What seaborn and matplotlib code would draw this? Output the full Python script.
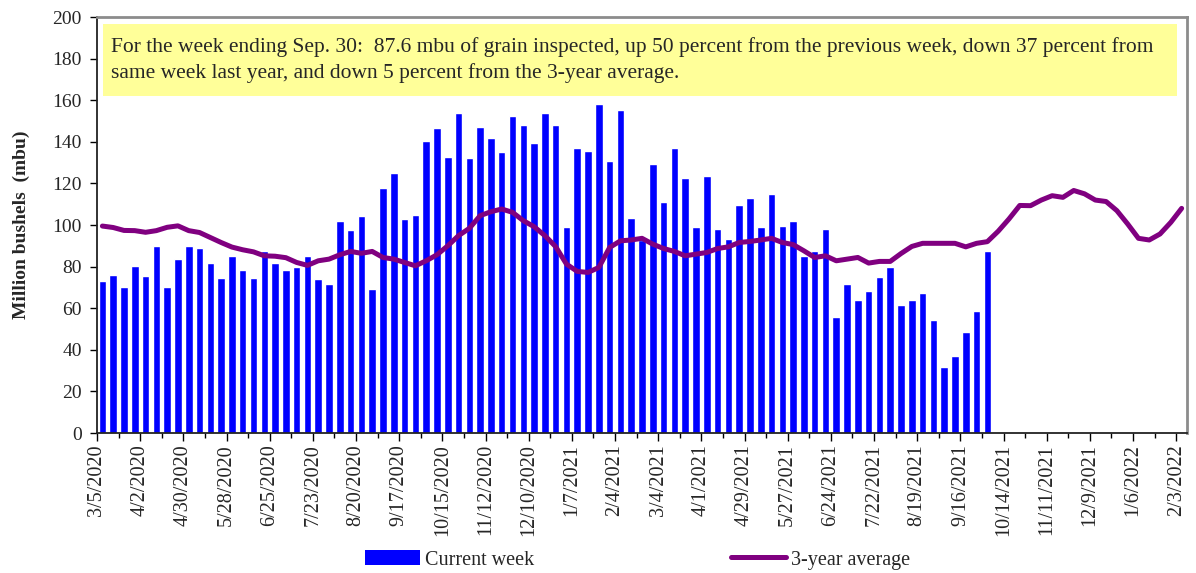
import numpy as np
import pandas as pd
import matplotlib
matplotlib.use("Agg")
import matplotlib.pyplot as plt
import seaborn as sns
from matplotlib.patches import Patch, Rectangle
from matplotlib.lines import Line2D

# weekly inspections, week ending 3/5/2020 .. 9/30/2021 (million bushels)
current_week = [
    73, 76, 70, 80.5, 75.5, 90, 70, 83.5, 90, 89,
    81.5, 74.5, 85, 78.5, 74.5, 87.5, 81.5, 78.5, 80, 85,
    74, 71.5, 102, 97.5, 104.5, 69, 118, 125, 103, 105,
    140.5, 146.5, 132.5, 154, 132, 147, 142, 135, 152.5, 148,
    139.5, 154, 148, 99, 137, 135.5, 158, 131, 155.5, 103.5,
    93, 129.5, 111, 137, 122.5, 99, 123.5, 98, 93.5, 109.5,
    113, 99, 115, 99.5, 102, 85, 87.5, 98, 56, 71.5,
    64, 68.5, 75, 80, 61.5, 64, 67.5, 54.5, 31.5, 37,
    48.5, 58.5, 87.6,
]

# 3-year average, week ending 3/5/2020 .. 2/3/2022
three_year_avg = [
    99.5, 98.8, 97.4, 97.3, 96.5, 97.3, 98.9, 99.6, 97.3, 96.4,
    94, 91.6, 89.4, 88.1, 87.1, 85.2, 85, 84.3, 82, 80.6,
    82.8, 83.6, 85.7, 87.3, 86.4, 87.3, 84.4, 83.6, 82, 80.4,
    82.8, 85.7, 90, 94.9, 98.4, 104.5, 106.4, 107.7, 106.1, 102.1,
    99.2, 94.9, 89.6, 81.2, 77.7, 77.2, 79.6, 89.2, 92.4, 92.8,
    93.6, 90.8, 88.7, 87.3, 85.2, 86, 86.8, 88.7, 89.5, 91.6,
    92.1, 92.8, 93.6, 91.6, 90.6, 87.6, 84.4, 85.2, 82.8, 83.6,
    84.4, 81.7, 82.5, 82.5, 86.3, 89.7, 91.2, 91.2, 91.2, 91.2,
    89.5, 91.2, 92, 97, 102.9, 109.4, 109.3, 112, 114.1, 113.3,
    116.6, 115, 112, 111.3, 106.9, 100.5, 93.6, 92.8, 95.7, 101.3,
    108,
]

tick_labels = [
    "3/5/2020", "4/2/2020", "4/30/2020", "5/28/2020", "6/25/2020", "7/23/2020",
    "8/20/2020", "9/17/2020", "10/15/2020", "11/12/2020", "12/10/2020", "1/7/2021",
    "2/4/2021", "3/4/2021", "4/1/2021", "4/29/2021", "5/27/2021", "6/24/2021",
    "7/22/2021", "8/19/2021", "9/16/2021", "10/14/2021", "11/11/2021", "12/9/2021",
    "1/6/2022", "2/3/2022",
]

note = ("For the week ending Sep. 30:  87.6 mbu of grain inspected, up 50 percent from the previous week, down 37 percent from\n"
        "same week last year, and down 5 percent from the 3-year average.")

sns.set_theme(style="white")
plt.rcParams["font.family"] = ["Liberation Serif", "DejaVu Serif"]

n_weeks = len(three_year_avg)
bars = pd.DataFrame({"week": np.arange(len(current_week)), "mbu": current_week})
avg = pd.DataFrame({"week": np.arange(n_weeks), "mbu": three_year_avg})

fig = plt.figure(figsize=(11.96, 5.73), dpi=100)
ax = fig.add_axes([0.0811, 0.2443, 0.9114, 0.7260])

sns.barplot(data=bars, x="week", y="mbu", order=list(range(n_weeks)),
            color="#0000FF", saturation=1, width=0.7, ax=ax)
sns.lineplot(data=avg, x="week", y="mbu", color="#800080", lw=3.6, ax=ax)

ax.set_xlim(-0.5, n_weeks - 0.5)
ax.set_ylim(0, 200)
ax.set_yticks(range(0, 201, 20))
ax.set_xticks(np.arange(0, n_weeks, 4) - 0.5)
ax.set_xticklabels(tick_labels, rotation=90, fontsize=14.5)
ax.set_xticks(np.arange(2, n_weeks, 4) - 0.5, minor=True)
ax.tick_params(axis="x", which="major", bottom=True, length=6, width=1, color="black", pad=2)
ax.tick_params(axis="x", which="minor", bottom=True, length=3.5, width=1, color="black")
ax.tick_params(axis="y", left=True, length=5, width=1, color="black", labelsize=14, pad=6)
ax.set_xlabel("")
ax.set_ylabel("Million bushels  (mbu)", fontsize=14, fontweight="bold", labelpad=16)

for side in ["left", "bottom"]:
    ax.spines[side].set_color("#222222")
    ax.spines[side].set_linewidth(1.3)
for side in ["top", "right"]:
    ax.spines[side].set_color("#8c8c8c")
    ax.spines[side].set_linewidth(2)

ax.add_patch(Rectangle((0.0055, 0.81), 0.9855, 0.173, transform=ax.transAxes,
                       facecolor="#FFFF99", edgecolor="none", zorder=5))
ax.text(0.0125, 0.8965, note, transform=ax.transAxes, fontsize=15.5,
        va="center", ha="left", linespacing=1.35, zorder=6)

handles = [Patch(facecolor="#0000FF", edgecolor="none"),
           Line2D([], [], color="#800080", lw=3.6)]
fig.legend(handles, ["Current week", "3-year average"], loc="center",
           bbox_to_anchor=(0.5330, 0.0227), ncol=2, frameon=False, fontsize=14.5,
           handlelength=2.7, handletextpad=0.25, columnspacing=9.8)

fig.savefig("out.png", dpi=100)
